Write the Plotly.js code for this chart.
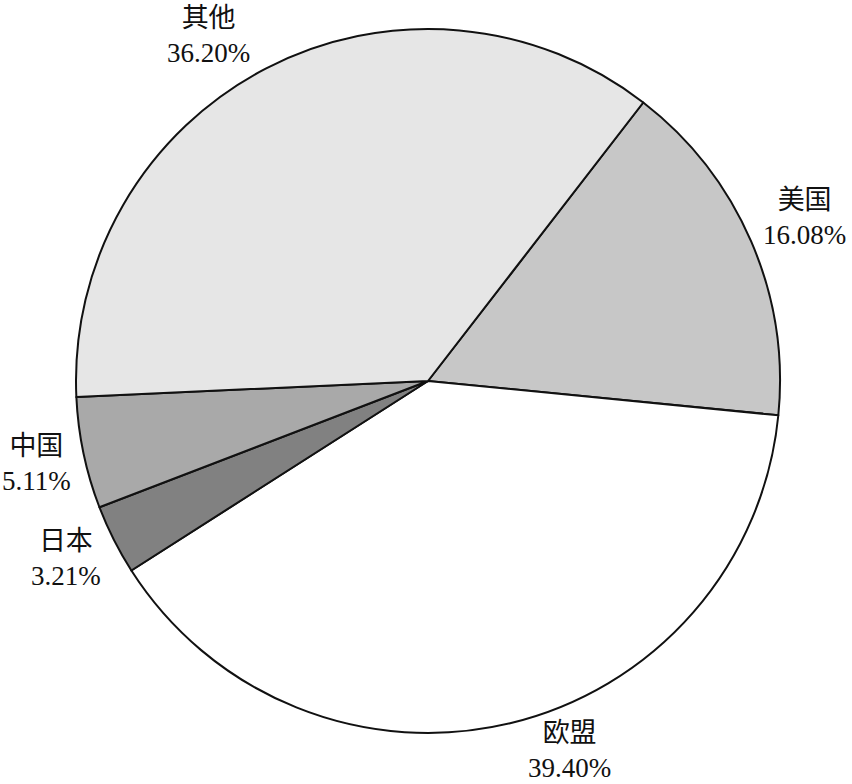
<!DOCTYPE html>
<html>
<head>
<meta charset="utf-8">
<script src="https://cdn.plot.ly/plotly-3.0.1.min.js"></script>
<style>
  html, body { margin: 0; padding: 0; background: #ffffff; }
  #chart { width: 852px; height: 784px; }
</style>
</head>
<body>
<div id="chart"></div>
<script>
// Regional shares (%), listed clockwise starting from 美国
const regions = ['美国', '欧盟', '日本', '中国', '其他'];
const shares = [16.08, 39.40, 3.21, 5.11, 36.20];
const sliceColors = ['#c7c7c7', '#ffffff', '#818181', '#a9a9a9', '#e6e6e6'];

// Pie geometry (px) and label placement
const W = 852, H = 784;
const margin = { l: 76, r: 72, t: 29, b: 51 };
const startAngle = 37.7;          // degrees clockwise from 12 o'clock
const labelRadius = 405;          // px from pie centre to label block centre
const labelNudge = [[5, -3], [47, -24], [0, -5], [5, 0], [-33, 14]];  // px, per label
const textFont = { family: '"Liberation Serif", "Noto Sans CJK SC", serif', size: 27, color: '#111111' };

const trace = {
  type: 'pie',
  labels: regions,
  values: shares,
  sort: false,
  direction: 'clockwise',
  rotation: startAngle,
  marker: {
    colors: sliceColors,
    line: { color: '#111111', width: 2 }
  },
  textinfo: 'none',
  hoverinfo: 'none',
  automargin: false,
  showlegend: false
};

// Label positions follow each slice's mid-angle
const plotW = W - margin.l - margin.r;
const plotH = H - margin.t - margin.b;
const total = shares.reduce((a, b) => a + b, 0);
let cum = 0;
const annotations = regions.map((name, i) => {
  const mid = startAngle + (cum + shares[i] / 2) / total * 360;
  cum += shares[i];
  const rad = mid * Math.PI / 180;
  const dx = labelRadius * Math.sin(rad) + labelNudge[i][0];
  const dy = -labelRadius * Math.cos(rad) + labelNudge[i][1];
  return {
    xref: 'paper', yref: 'paper',
    x: 0.5 + dx / plotW,
    y: 0.5 - dy / plotH,
    xanchor: 'center', yanchor: 'middle',
    text: name + '<br>' + shares[i].toFixed(2) + '%',
    showarrow: false,
    align: 'center',
    font: textFont
  };
});

const layout = {
  width: W,
  height: H,
  margin: margin,
  paper_bgcolor: '#ffffff',
  plot_bgcolor: '#ffffff',
  showlegend: false,
  annotations: annotations
};

Plotly.newPlot('chart', [trace], layout, { staticPlot: true });
</script>
</body>
</html>
